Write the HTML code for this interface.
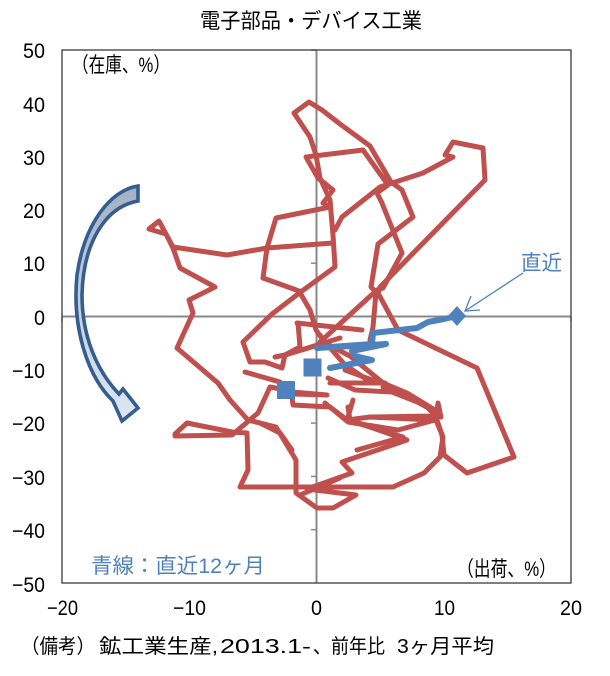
<!DOCTYPE html>
<html>
<head>
<meta charset="utf-8">
<style>
html,body{margin:0;padding:0;background:#fff;}
svg{display:block;}
.cjk{font-family:"Liberation Sans","Noto Sans CJK JP",sans-serif;}
.num{font-family:"Liberation Sans",sans-serif;font-size:21px;fill:#000;}
</style>
</head>
<body>
<svg width="610" height="676" viewBox="0 0 610 676" xmlns="http://www.w3.org/2000/svg">
<defs>
<linearGradient id="ag" x1="0" y1="0" x2="0" y2="1">
<stop offset="0" stop-color="#a3b0c5"/>
<stop offset="0.5" stop-color="#c3cfe2"/>
<stop offset="1" stop-color="#dde6f4"/>
</linearGradient>
</defs>
<rect width="610" height="676" fill="#fff"/>

<!-- title -->
<text class="cjk" x="200" y="28" font-size="21" textLength="222" lengthAdjust="spacingAndGlyphs">電子部品・デバイス工業</text>

<!-- zero axes -->
<line x1="316.5" y1="50" x2="316.5" y2="583" stroke="#888" stroke-width="2"/>
<line x1="62" y1="316.5" x2="571" y2="316.5" stroke="#888" stroke-width="2"/>
<g stroke="#888" stroke-width="1.5">
<line x1="311" y1="50" x2="316" y2="50"/>
<line x1="311" y1="103.3" x2="316" y2="103.3"/>
<line x1="311" y1="156.6" x2="316" y2="156.6"/>
<line x1="311" y1="209.9" x2="316" y2="209.9"/>
<line x1="311" y1="263.2" x2="316" y2="263.2"/>
<line x1="311" y1="369.8" x2="316" y2="369.8"/>
<line x1="311" y1="423.1" x2="316" y2="423.1"/>
<line x1="311" y1="476.4" x2="316" y2="476.4"/>
<line x1="311" y1="529.7" x2="316" y2="529.7"/>
<line x1="62" y1="317" x2="62" y2="322"/>
<line x1="189.2" y1="317" x2="189.2" y2="322"/>
<line x1="443.8" y1="317" x2="443.8" y2="322"/>
<line x1="571" y1="317" x2="571" y2="322"/>
</g>

<!-- plot border -->
<rect x="62" y="50" width="509" height="533" fill="none" stroke="#3a3a3a" stroke-width="1.3"/>

<!-- curved arrow -->
<path d="M138,186 C110,190 84,225 77,275 C72,325 86,375 113,401 L122,421 L138,408 L123,389 L119,394 C96,370 82,335 82,295 C83,245 104,207 138,201 Z" fill="url(#ag)" stroke="#355e8f" stroke-width="3.6" stroke-linejoin="miter"/>

<!-- red path -->
<g fill="none" stroke="#c0504d" stroke-width="5" stroke-linejoin="round" stroke-linecap="round">
<polyline points="294,113 309,102 322,110 340,124 370,146 391,182 402,190 413,217 378,244 371,287 376,292 373,327 370,340"/>
<polyline points="363,150 306,157 318,178 333,190 323,203 330,207 276,218 267,248 263,278 299,291 310,310 316,330 325,343 350,356 382,382 437,413"/>
<polyline points="294,113 310,137 316,155 320,178 330,200 333,235 335,267 302,291 272,314 243,342 250,362 265,362 282,368 285,355 318,345"/>
<polyline points="320,342 377,290 383,288 402,253 382,203 377,193 388,185 363,150"/>
<polyline points="335,230 342,217 380,187 423,173 453,157 445,155 453,142 483,148 485,180 380,287 378,293 398,330 477,368 514,457 467,473 444,455 442,435 437,420"/>
<polyline points="333,243 267,248 227,255 173,247 166,234 149,229 159,221 166,234 173,248 180,268 215,287 189,300 193,313 177,348 218,383 230,400 248,420 276,427 296,460 296,493 317,508 333,508 356,495 307,489 352,473 342,462 407,440 350,420 348,407"/>
<polyline points="175,434 187,423 232,432 247,433 248,470 240,487 393,487 424,473 440,457 443,437 436,420 438,403 441,417 435,416 373,417"/>
<polyline points="175,436 232,435 258,413 270,387 286,390"/>
<polyline points="297,323 362,330"/>
<polyline points="298,323 300,347 285,355 275,357"/>
<polyline points="318,333 332,350 345,365 372,383 385,383"/>
<polyline points="292,397 293,405 330,407 347,420 370,417 432,420"/>
<polyline points="330,383 383,383 407,393 435,410"/>
<polyline points="353,400 347,420"/>
<polyline points="357,423 403,437 357,450"/>
<polyline points="292,392 327,395 292,394"/>
<polyline points="328,378 355,390 392,392 425,405 435,415"/>
<polyline points="345,370 380,383"/>
<polyline points="325,403 348,422 398,430 435,420"/>
<polyline points="245,372 280,382"/>
<polyline points="260,423 280,433 292,450"/>
<polyline points="285,355 340,338"/>
<polyline points="300,495 340,478"/>
<polyline points="383,387 430,407"/>
</g>

<!-- blue path -->
<g fill="#4f81bd">
<rect x="277" y="381" width="18" height="18"/>
<rect x="303.5" y="358.5" width="18" height="18"/>
<polygon points="457,306 466,316 457,326 448,316"/>
</g>
<polyline points="330,368 372,360 355,356 352,351 386,344 317,348 372,344 373,333 417,328 428,322 444,319 457,316" fill="none" stroke="#4f81bd" stroke-width="6" stroke-linejoin="round" stroke-linecap="round"/>

<!-- 直近 pointer -->
<g stroke="#4f81bd" stroke-width="1.3" fill="none">
<line x1="523" y1="273" x2="465" y2="311"/>
<polyline points="471,296 465,311 480,310"/>
</g>
<text class="cjk" x="521" y="270" font-size="21" fill="#4f81bd" textLength="41" lengthAdjust="spacingAndGlyphs">直近</text>

<!-- in-plot labels -->
<text class="cjk" x="72" y="72" font-size="21" textLength="98" lengthAdjust="spacingAndGlyphs">（在庫、%）</text>
<text class="cjk" x="457" y="576" font-size="21" textLength="99" lengthAdjust="spacingAndGlyphs">（出荷、%）</text>
<text class="cjk" x="91" y="573" font-size="21" fill="#4f81bd" textLength="174" lengthAdjust="spacingAndGlyphs">青線：直近12ヶ月</text>

<!-- y tick labels -->
<text class="num" x="23" y="58" textLength="22" lengthAdjust="spacingAndGlyphs">50</text>
<text class="num" x="23" y="112" textLength="22" lengthAdjust="spacingAndGlyphs">40</text>
<text class="num" x="23" y="165" textLength="22" lengthAdjust="spacingAndGlyphs">30</text>
<text class="num" x="23" y="218" textLength="22" lengthAdjust="spacingAndGlyphs">20</text>
<text class="num" x="23" y="271" textLength="22" lengthAdjust="spacingAndGlyphs">10</text>
<text class="num" x="34" y="325" textLength="11" lengthAdjust="spacingAndGlyphs">0</text>
<text class="num" x="12" y="378" textLength="33" lengthAdjust="spacingAndGlyphs">−10</text>
<text class="num" x="12" y="431" textLength="33" lengthAdjust="spacingAndGlyphs">−20</text>
<text class="num" x="12" y="485" textLength="33" lengthAdjust="spacingAndGlyphs">−30</text>
<text class="num" x="12" y="538" textLength="33" lengthAdjust="spacingAndGlyphs">−40</text>
<text class="num" x="12" y="592" textLength="33" lengthAdjust="spacingAndGlyphs">−50</text>

<!-- x tick labels -->
<text class="num" x="47" y="615" textLength="31" lengthAdjust="spacingAndGlyphs">−20</text>
<text class="num" x="173" y="615" textLength="33" lengthAdjust="spacingAndGlyphs">−10</text>
<text class="num" x="311" y="615" textLength="11" lengthAdjust="spacingAndGlyphs">0</text>
<text class="num" x="434" y="615" textLength="21" lengthAdjust="spacingAndGlyphs">10</text>
<text class="num" x="560" y="615" textLength="22" lengthAdjust="spacingAndGlyphs">20</text>

<!-- footnote -->
<g class="cjk" font-size="20">
<text x="21" y="653" textLength="74" lengthAdjust="spacingAndGlyphs">（備考）</text>
<text x="99" y="653" textLength="119" lengthAdjust="spacingAndGlyphs">鉱工業生産,</text>
<text x="220" y="653" textLength="91" lengthAdjust="spacingAndGlyphs">2013.1-</text>
<text x="313" y="653" textLength="72" lengthAdjust="spacingAndGlyphs">、前年比</text>
<text x="397" y="653" textLength="97" lengthAdjust="spacingAndGlyphs">3ヶ月平均</text>
</g>
</svg>
</body>
</html>
